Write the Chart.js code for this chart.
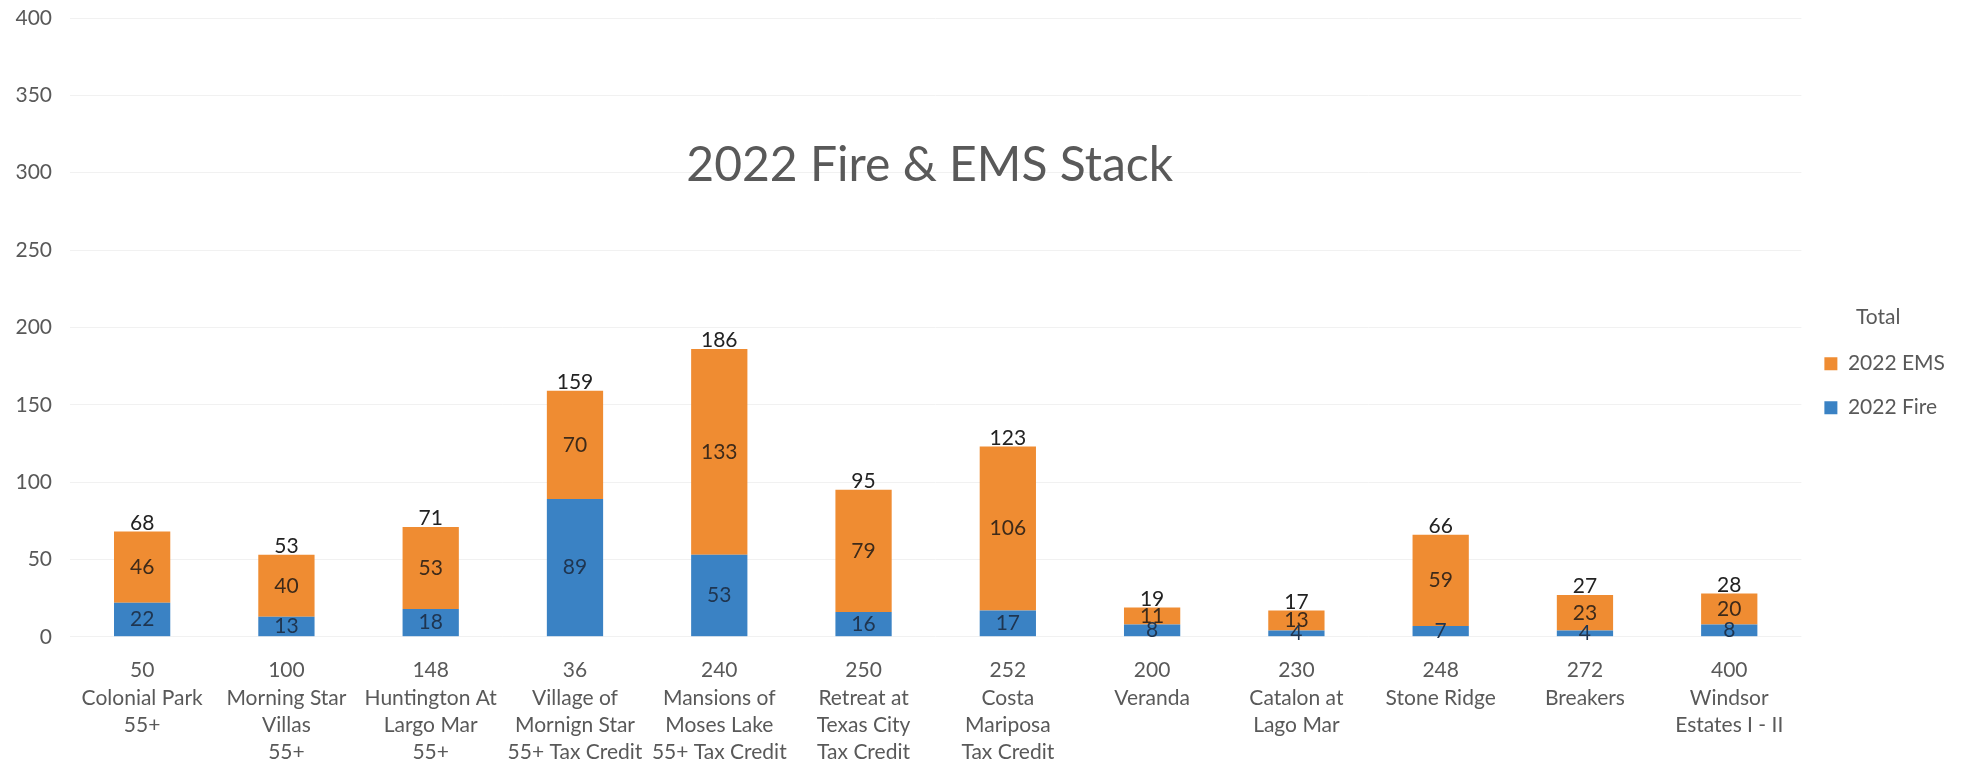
<!DOCTYPE html>
<html>
<head>
<meta charset="utf-8">
<script src="https://cdn.jsdelivr.net/npm/chart.js@4/dist/chart.umd.min.js"></script>
<style>
  html, body { margin: 0; padding: 0; background: #fff; }
  #wrap { width: 1965px; height: 770px; position: relative; }
</style>
</head>
<body>
<div id="wrap"><canvas id="stackChart"></canvas></div>
<script>
// categorias (unidades + nombre)
const units = ['50', '100', '148', '36', '240', '250', '252', '200', '230', '248', '272', '400'];
const names = [
    ['Colonial Park', '55+'],
    ['Morning Star', 'Villas', '55+'],
    ['Huntington At', 'Largo Mar', '55+'],
    ['Village of', 'Mornign Star', '55+ Tax Credit'],
    ['Mansions of', 'Moses Lake', '55+ Tax Credit'],
    ['Retreat at', 'Texas City', 'Tax Credit'],
    ['Costa', 'Mariposa', 'Tax Credit'],
    ['Veranda'],
    ['Catalon at', 'Lago Mar'],
    ['Stone Ridge'],
    ['Breakers'],
    ['Windsor', 'Estates I - II']
];
const fire2022 = [22, 13, 18, 89, 53, 16, 17, 8, 4, 7, 4, 8];
const ems2022 = [46, 40, 53, 70, 133, 79, 106, 11, 13, 59, 23, 20];
const yTicks = [0, 50, 100, 150, 200, 250, 300, 350, 400];

const FONT = 'Lato, "Open Sans", sans-serif';
const GREY = '#595959';

document.addEventListener('DOMContentLoaded', function () {
    const ctx = document.getElementById('stackChart').getContext('2d');
    const labels = units.map((u, i) => [u].concat(names[i]));

    // etiquetas dentro de las barras + total arriba + titulo dentro del area
    const valueLabels = {
        id: 'valueLabels',
        afterDatasetsDraw(chart) {
            const c = chart.ctx;
            c.save();
            c.font = '21px ' + FONT;
            c.textAlign = 'center';
            c.textBaseline = 'middle';
            chart.data.datasets.forEach((ds, di) => {
                const meta = chart.getDatasetMeta(di);
                meta.data.forEach((bar, i) => {
                    const mid = (bar.y + bar.base) / 2;
                    c.fillStyle = di === 0 ? '#1f3550' : '#3d2a1a';
                    c.fillText(ds.data[i], bar.x, mid);
                });
            });
            // totales
            const top = chart.getDatasetMeta(chart.data.datasets.length - 1);
            top.data.forEach((bar, i) => {
                const total = fire2022[i] + ems2022[i];
                c.fillStyle = '#222';
                c.textBaseline = 'bottom';
                c.fillText(total, bar.x, chart.scales.y.getPixelForValue(total) + 2);
            });
            // titulo
            const area = chart.chartArea;
            c.font = '48px ' + FONT;
            c.fillStyle = GREY;
            c.textBaseline = 'middle';
            c.fillText('2022 Fire & EMS Stack', (area.left + area.right) / 2 - 6, 166);
            c.restore();
        }
    };

    new Chart(ctx, {
        type: 'bar',
        data: {
            labels: labels,
            datasets: [
                {
                    label: '2022 Fire',
                    data: fire2022,
                    backgroundColor: '#3A82C4',
                    barPercentage: 0.39,
                    categoryPercentage: 1
                },
                {
                    label: '2022 EMS',
                    data: ems2022,
                    backgroundColor: '#EF8C32',
                    barPercentage: 0.39,
                    categoryPercentage: 1
                }
            ]
        },
        options: {
            responsive: true,
            maintainAspectRatio: false,
            animation: false,
            layout: { padding: { top: 0, left: 0, right: 10, bottom: -8 } },
            scales: {
                x: {
                    stacked: true,
                    grid: { display: false },
                    border: { display: false },
                    ticks: {
                        color: GREY,
                        font: { family: FONT, size: 21, lineHeight: 1.3 },
                        maxRotation: 0,
                        autoSkip: false,
                        padding: 12
                    }
                },
                y: {
                    stacked: true,
                    min: 0,
                    max: 400,
                    grid: { color: '#F1F1F1', drawTicks: false },
                    border: { display: false },
                    afterBuildTicks(axis) {
                        axis.ticks = yTicks.map(v => ({ value: v }));
                    },
                    afterFit(axis) {
                        axis.width = 70;
                        axis.paddingTop = 18;
                    },
                    ticks: {
                        color: GREY,
                        font: { family: FONT, size: 21 },
                        padding: 18
                    }
                }
            },
            plugins: {
                legend: {
                    position: 'right',
                    align: 'start',
                    reverse: true,
                    title: {
                        display: true,
                        text: 'Total',
                        color: GREY,
                        font: { family: FONT, size: 21 },
                        padding: { top: 307, bottom: -2 }
                    },
                    labels: {
                        color: GREY,
                        font: { family: FONT, size: 21 },
                        boxWidth: 13,
                        boxHeight: 13,
                        padding: 23
                    }
                },
                title: { display: false },
                tooltip: { enabled: false }
            }
        },
        plugins: [valueLabels]
    });
});
</script>
</body>
</html>
